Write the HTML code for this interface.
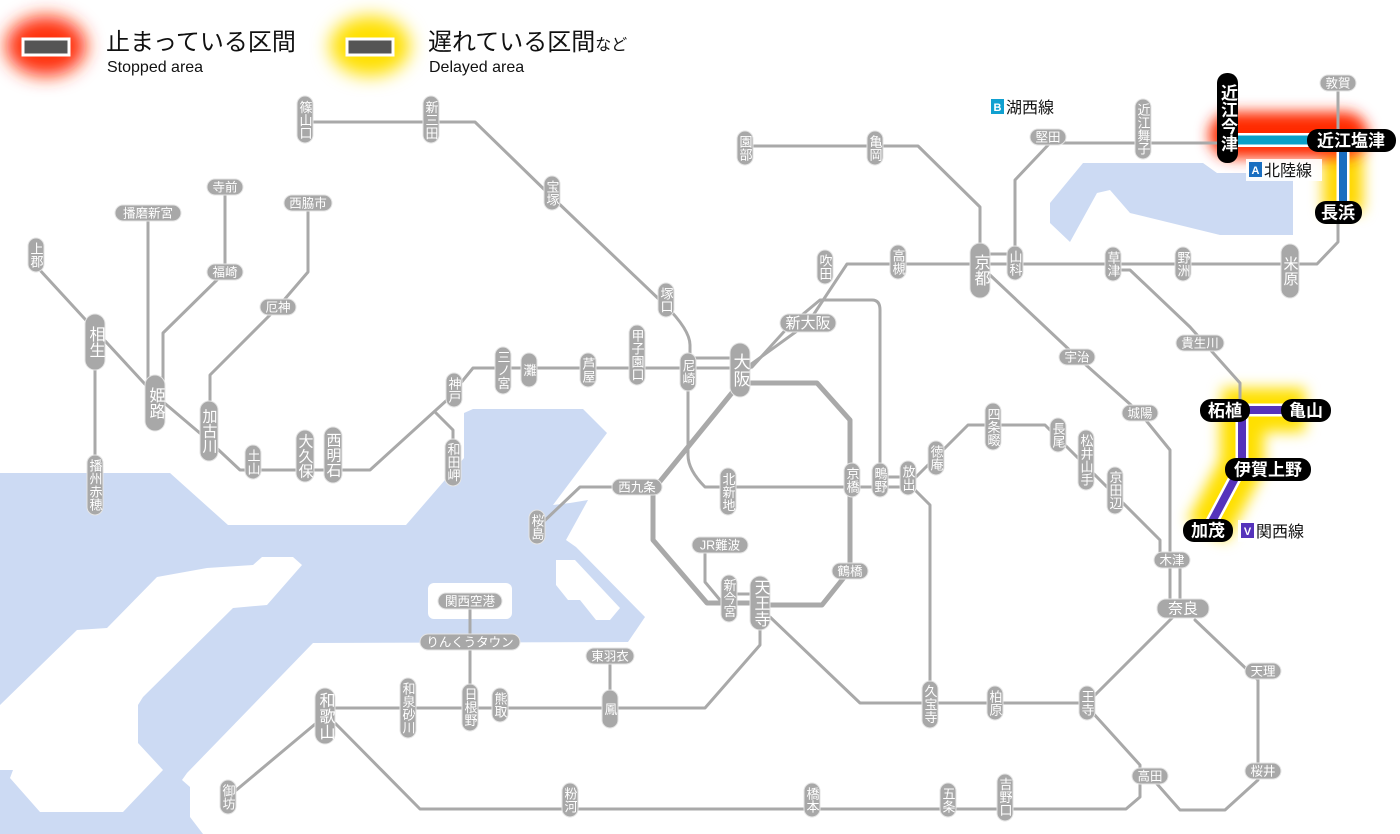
<!DOCTYPE html>
<html><head><meta charset="utf-8"><style>
html,body{margin:0;padding:0;background:#fff;}
svg{display:block;font-family:"Liberation Sans","Noto Sans CJK JP",sans-serif;}
.l{fill:none;stroke:#a9a9a9;stroke-width:3;stroke-linejoin:round;stroke-linecap:round}
.lt{fill:none;stroke:#a9a9a9;stroke-width:5;stroke-linejoin:round}
.p{fill:#a8a8a8;stroke:#e4e4e4;stroke-width:1}
.v{fill:#fff;font-size:13px;writing-mode:tb;text-anchor:middle}
.vb{fill:#fff;font-size:16px;writing-mode:tb;text-anchor:middle}
.h{fill:#fff;font-size:12.5px;text-anchor:middle}
.k{fill:#000}
.kt{fill:#fff;font-size:17px;font-weight:bold;text-anchor:middle}
</style></head><body>
<svg width="1400" height="834" viewBox="0 0 1400 834" xmlns="http://www.w3.org/2000/svg">
<defs>
<filter id="b1" filterUnits="userSpaceOnUse" x="0" y="0" width="1400" height="834"><feGaussianBlur stdDeviation="9"/></filter>
<filter id="b2" filterUnits="userSpaceOnUse" x="0" y="0" width="1400" height="834"><feGaussianBlur stdDeviation="7"/></filter>
</defs>
<!-- sea -->
<polygon fill="#ccdaf3" points="0,473 170,473 228,525 406,525 464,458 464,413 473,409 583,409 607,433 553,505 570,503 588,500 566,540 576,547 645,617 628,642 313,643 187,773 182,780 190,787 190,817 203,834 0,834"/>
<polygon fill="#fff" points="262,557 293,557 302,565 267,605 233,608 143,697 138,705 138,743 163,770 123,812 40,812 10,778 13,770 0,770 0,705 77,630 107,628 157,577 207,568 253,565"/>
<polygon fill="#fff" points="556,560 575,560 620,608 610,620 596,620 580,600 568,600 556,585"/>
<rect x="428" y="583" width="84" height="36" rx="6" fill="#fff"/>
<polygon fill="#ccdaf3" points="1050,203 1083,163 1203,163 1217,173 1293,173 1293,235 1220,235 1130,213 1110,190 1097,193 1070,242 1050,223"/>

<!-- glows -->
<ellipse cx="46" cy="46" rx="40" ry="30" fill="#ff3010" filter="url(#b1)"/>
<ellipse cx="370" cy="46" rx="40" ry="30" fill="#ffe000" filter="url(#b1)"/>
<path d="M1343,150 V212" stroke="#ffd800" stroke-width="40" fill="none" filter="url(#b2)"/>
<path d="M1232,135 H1345" stroke="#ff2a00" stroke-width="46" fill="none" stroke-linecap="round" filter="url(#b2)"/>
<path d="M1222,410 H1305 M1242,410 V465 L1207,531" stroke="#ffe000" stroke-width="44" fill="none" stroke-linejoin="round" filter="url(#b2)"/>

<!-- legend -->
<rect x="23" y="39" width="46" height="16" fill="#555" stroke="#fff" stroke-width="3"/>
<rect x="347" y="39" width="46" height="16" fill="#555" stroke="#fff" stroke-width="3"/>
<text x="106" y="50" font-size="24" fill="#111">止まっている区間</text>
<text x="107" y="72" font-size="16" fill="#111">Stopped area</text>
<text x="428" y="50" font-size="24" fill="#111">遅れている区間<tspan font-size="16">など</tspan></text>
<text x="429" y="72" font-size="16" fill="#111">Delayed area</text>

<!-- gray lines -->
<path class="l" d="M305,122 H475 L552,197 L665,305 Q690,330 690,345 V372"/>
<path class="l" d="M447,400 L473,368 H750 M690,358 H740"/>
<path class="l" d="M447,400 L370,470 H240 L208,440 L155,395 L95,330 L38,268"/>
<path class="l" d="M435,412 L453,430 V462"/>
<path class="l" d="M95,340 V480"/>
<path class="l" d="M148,213 V395"/>
<path class="l" d="M225,187 V272 L163,333 V395"/>
<path class="l" d="M308,203 V272 L278,307 L210,375 V430"/>
<path class="l" d="M745,146 H918 L980,207 V265"/>
<path class="l" d="M750,365 L808,323 L847,264 H1317 L1338,242 V212"/>
<path class="l" d="M1338,83 V140"/>
<path class="l" d="M980,254 H1015"/>
<path class="l" d="M1015,262 V180 L1050,143 H1225"/>
<path class="l" d="M752,367 L790,325 L820,300 H872 Q880,300 880,310 V480"/>
<path class="lt" d="M740,383 H817 L850,420 V570 L822,605 H760 M740,383 L653,490 V540 L707,603 H760"/>
<path class="l" d="M688,380 V455 Q688,470 705,487 H908 M880,477 H908"/>
<path class="l" d="M620,487 H580 L540,525"/>
<path class="l" d="M908,485 L968,425 H1045 L1065,445 L1160,540 V560"/>
<path class="l" d="M915,490 L930,505 V703"/>
<path class="l" d="M990,275 L1077,357 L1140,413 L1170,450 V608 M1180,560 V608"/>
<path class="l" d="M1120,270 H1130 L1190,327 L1240,383 V410"/>
<path class="l" d="M1178,612 L1087,703 H860 L770,617"/>
<path class="l" d="M1195,620 L1258,680 V780 L1225,810 H1180 L1150,776"/>
<path class="l" d="M1092,712 L1140,765 V797 L1126,809 H420 L330,718"/>
<path class="l" d="M320,720 L228,797"/>
<path class="l" d="M330,708 H705 L760,645 V600"/>
<path class="l" d="M470,601 V705 M610,656 V710"/>
<path class="l" d="M705,545 V582 L720,600 M730,594 H760"/>

<!-- colored lines -->
<path d="M1225,140 H1350" stroke="#fff" stroke-width="14" fill="none"/>
<path d="M1225,140 H1350" stroke="#0aa0c8" stroke-width="9" fill="none"/>
<path d="M1343,140 V212" stroke="#fff" stroke-width="13" fill="none"/>
<path d="M1343,140 V212" stroke="#1a6ec0" stroke-width="8" fill="none"/>
<path d="M1222,410 H1305 M1242,410 V465 L1207,531" stroke="#fff" stroke-width="13" fill="none"/>
<path d="M1222,410 H1305 M1242,410 V465 L1207,531" stroke="#5533bb" stroke-width="8" fill="none" stroke-linejoin="round"/>

<!-- vertical labels -->
<g>
<rect class="p" x="297" y="96" width="16" height="47" rx="8"/><text class="v" x="305" y="120">篠山口</text>
<rect class="p" x="423" y="96" width="16" height="47" rx="8"/><text class="v" x="431" y="120">新三田</text>
<rect class="p" x="544" y="176" width="16" height="34" rx="8"/><text class="v" x="552" y="193">宝塚</text>
<rect class="p" x="658" y="283" width="16" height="34" rx="8"/><text class="v" x="666" y="300">塚口</text>
<rect class="p" x="28" y="238" width="16" height="34" rx="8"/><text class="v" x="36" y="255">上郡</text>
<rect class="p" x="85" y="314" width="20" height="56" rx="10"/><text class="vb" x="95" y="342">相生</text>
<rect class="p" x="87" y="455" width="16" height="60" rx="8"/><text class="v" x="95" y="485">播州赤穂</text>
<rect class="p" x="145" y="375" width="20" height="56" rx="10"/><text class="vb" x="155" y="403">姫路</text>
<rect class="p" x="200" y="401" width="18" height="60" rx="9"/><text class="v" x="209" y="431" style="font-size:15px">加古川</text>
<rect class="p" x="245" y="445" width="16" height="34" rx="8"/><text class="v" x="253" y="462">土山</text>
<rect class="p" x="296" y="430" width="18" height="52" rx="9"/><text class="v" x="305" y="456" style="font-size:15px">大久保</text>
<rect class="p" x="324" y="427" width="18" height="56" rx="9"/><text class="v" x="333" y="455" style="font-size:15px">西明石</text>
<rect class="p" x="446" y="373" width="16" height="34" rx="8"/><text class="v" x="454" y="390">神戸</text>
<rect class="p" x="445" y="439" width="16" height="47" rx="8"/><text class="v" x="453" y="462">和田岬</text>
<rect class="p" x="495" y="347" width="16" height="47" rx="8"/><text class="v" x="503" y="370">三ノ宮</text>
<rect class="p" x="521" y="353" width="16" height="34" rx="8"/><text class="v" x="529" y="370">灘</text>
<rect class="p" x="580" y="353" width="16" height="34" rx="8"/><text class="v" x="588" y="370">芦屋</text>
<rect class="p" x="629" y="325" width="16" height="60" rx="8"/><text class="v" x="637" y="355">甲子園口</text>
<rect class="p" x="680" y="353" width="16" height="38" rx="8"/><text class="v" x="688" y="372">尼崎</text>
<rect class="p" x="730" y="343" width="20" height="54" rx="10"/><text class="vb" x="740" y="370" style="font-size:17px">大阪</text>
<rect class="p" x="720" y="468" width="16" height="47" rx="8"/><text class="v" x="728" y="492">北新地</text>
<rect class="p" x="844" y="463" width="16" height="34" rx="8"/><text class="v" x="852" y="480">京橋</text>
<rect class="p" x="872" y="463" width="16" height="34" rx="8"/><text class="v" x="880" y="480">鴫野</text>
<rect class="p" x="900" y="461" width="16" height="34" rx="8"/><text class="v" x="908" y="478">放出</text>
<rect class="p" x="529" y="510" width="16" height="34" rx="8"/><text class="v" x="537" y="527">桜島</text>
<rect class="p" x="721" y="575" width="16" height="47" rx="8"/><text class="v" x="729" y="598">新今宮</text>
<rect class="p" x="750" y="576" width="20" height="54" rx="10"/><text class="vb" x="760" y="603">天王寺</text>
<rect class="p" x="737" y="131" width="16" height="34" rx="8"/><text class="v" x="745" y="148">園部</text>
<rect class="p" x="867" y="131" width="16" height="34" rx="8"/><text class="v" x="875" y="148">亀岡</text>
<rect class="p" x="817" y="250" width="16" height="34" rx="8"/><text class="v" x="825" y="267">吹田</text>
<rect class="p" x="890" y="245" width="16" height="34" rx="8"/><text class="v" x="898" y="262">高槻</text>
<rect class="p" x="970" y="243" width="20" height="55" rx="10"/><text class="vb" x="980" y="270">京都</text>
<rect class="p" x="1007" y="246" width="16" height="34" rx="8"/><text class="v" x="1015" y="263">山科</text>
<rect class="p" x="1105" y="247" width="16" height="34" rx="8"/><text class="v" x="1113" y="264">草津</text>
<rect class="p" x="1175" y="247" width="16" height="34" rx="8"/><text class="v" x="1183" y="264">野洲</text>
<rect class="p" x="1281" y="244" width="18" height="54" rx="9"/><text class="v" x="1290" y="271" style="font-size:15px">米原</text>
<rect class="p" x="1135" y="99" width="16" height="60" rx="8"/><text class="v" x="1143" y="129">近江舞子</text>
<rect class="p" x="928" y="441" width="16" height="34" rx="8"/><text class="v" x="936" y="458">徳庵</text>
<rect class="p" x="985" y="403" width="16" height="47" rx="8"/><text class="v" x="993" y="427">四条畷</text>
<rect class="p" x="1050" y="418" width="16" height="34" rx="8"/><text class="v" x="1058" y="435">長尾</text>
<rect class="p" x="1078" y="430" width="16" height="60" rx="8"/><text class="v" x="1086" y="460">松井山手</text>
<rect class="p" x="1107" y="467" width="16" height="47" rx="8"/><text class="v" x="1115" y="490">京田辺</text>
<rect class="p" x="922" y="681" width="16" height="47" rx="8"/><text class="v" x="930" y="704">久宝寺</text>
<rect class="p" x="987" y="686" width="16" height="34" rx="8"/><text class="v" x="995" y="703">柏原</text>
<rect class="p" x="1079" y="686" width="16" height="34" rx="8"/><text class="v" x="1087" y="703">王寺</text>
<rect class="p" x="315" y="688" width="20" height="56" rx="10"/><text class="vb" x="325" y="716">和歌山</text>
<rect class="p" x="400" y="678" width="16" height="60" rx="8"/><text class="v" x="408" y="708">和泉砂川</text>
<rect class="p" x="462" y="684" width="16" height="47" rx="8"/><text class="v" x="470" y="707">日根野</text>
<rect class="p" x="492" y="688" width="16" height="34" rx="8"/><text class="v" x="500" y="705">熊取</text>
<rect class="p" x="602" y="690" width="16" height="38" rx="8"/><text class="v" x="610" y="709">鳳</text>
<rect class="p" x="220" y="780" width="16" height="34" rx="8"/><text class="v" x="228" y="797">御坊</text>
<rect class="p" x="562" y="783" width="16" height="34" rx="8"/><text class="v" x="570" y="800">粉河</text>
<rect class="p" x="804" y="783" width="16" height="34" rx="8"/><text class="v" x="812" y="800">橋本</text>
<rect class="p" x="940" y="783" width="16" height="34" rx="8"/><text class="v" x="948" y="800">五条</text>
<rect class="p" x="997" y="774" width="16" height="47" rx="8"/><text class="v" x="1005" y="797">吉野口</text>
</g>

<!-- horizontal labels -->
<g>
<rect class="p" x="115" y="205" width="66" height="16" rx="8"/><text class="h" x="148" y="217.5">播磨新宮</text>
<rect class="p" x="207" y="179" width="36" height="16" rx="8"/><text class="h" x="225" y="191.5">寺前</text>
<rect class="p" x="207" y="264" width="36" height="16" rx="8"/><text class="h" x="225" y="276.5">福崎</text>
<rect class="p" x="284" y="195" width="48" height="16" rx="8"/><text class="h" x="308" y="207.5">西脇市</text>
<rect class="p" x="260" y="299" width="36" height="16" rx="8"/><text class="h" x="278" y="311.5">厄神</text>
<rect class="p" x="780" y="314" width="56" height="18" rx="9"/><text class="h" x="808" y="328" style="font-size:15px">新大阪</text>
<rect class="p" x="612" y="479" width="50" height="16" rx="8"/><text class="h" x="637" y="491.5">西九条</text>
<rect class="p" x="692" y="537" width="56" height="16" rx="8"/><text class="h" x="720" y="549.5">JR難波</text>
<rect class="p" x="832" y="563" width="36" height="16" rx="8"/><text class="h" x="850" y="575.5">鶴橋</text>
<rect class="p" x="438" y="593" width="64" height="16" rx="8"/><text class="h" x="470" y="605.5">関西空港</text>
<rect class="p" x="420" y="634" width="100" height="16" rx="8"/><text class="h" x="470" y="646.5">りんくうタウン</text>
<rect class="p" x="586" y="648" width="48" height="16" rx="8"/><text class="h" x="610" y="660.5">東羽衣</text>
<rect class="p" x="1059" y="349" width="36" height="16" rx="8"/><text class="h" x="1077" y="361.5">宇治</text>
<rect class="p" x="1122" y="405" width="36" height="16" rx="8"/><text class="h" x="1140" y="417.5">城陽</text>
<rect class="p" x="1176" y="335" width="48" height="16" rx="8"/><text class="h" x="1200" y="347.5">貴生川</text>
<rect class="p" x="1154" y="552" width="36" height="16" rx="8"/><text class="h" x="1172" y="564.5">木津</text>
<rect class="p" x="1157" y="599" width="52" height="19" rx="9"/><text class="h" x="1183" y="613.5" style="font-size:15px">奈良</text>
<rect class="p" x="1245" y="663" width="36" height="16" rx="8"/><text class="h" x="1263" y="675.5">天理</text>
<rect class="p" x="1245" y="763" width="36" height="16" rx="8"/><text class="h" x="1263" y="775.5">桜井</text>
<rect class="p" x="1132" y="768" width="36" height="16" rx="8"/><text class="h" x="1150" y="780.5">高田</text>
<rect class="p" x="1030" y="129" width="36" height="16" rx="8"/><text class="h" x="1048" y="141.5">堅田</text>
<rect class="p" x="1320" y="75" width="36" height="16" rx="8"/><text class="h" x="1338" y="87.5">敦賀</text>
</g>

<!-- black labels -->
<rect class="k" x="1217" y="73" width="21" height="90" rx="10"/><text class="kt" x="1227.5" y="118" style="writing-mode:tb">近江今津</text>
<rect class="k" x="1307" y="129" width="89" height="23" rx="11"/><text class="kt" x="1351" y="146.5">近江塩津</text>
<rect class="k" x="1315" y="201" width="47" height="23" rx="11"/><text class="kt" x="1338" y="218.5">長浜</text>
<rect class="k" x="1200" y="399" width="50" height="23" rx="11"/><text class="kt" x="1225" y="416.5">柘植</text>
<rect class="k" x="1281" y="399" width="50" height="23" rx="11"/><text class="kt" x="1306" y="416.5">亀山</text>
<rect class="k" x="1225" y="458" width="86" height="23" rx="11"/><text class="kt" x="1268" y="475.5">伊賀上野</text>
<rect class="k" x="1183" y="519" width="50" height="23" rx="11"/><text class="kt" x="1208" y="536.5">加茂</text>

<!-- line badges -->
<rect x="988" y="96" width="76" height="22" fill="#fff" opacity="0.9"/>
<rect x="991" y="99" width="13" height="15" fill="#10a0d0"/><text x="997.5" y="111" font-size="11" fill="#fff" text-anchor="middle" font-weight="bold">B</text>
<text x="1006" y="113" font-size="16" fill="#111">湖西線</text>
<rect x="1246" y="159" width="76" height="22" fill="#fff" opacity="0.9"/>
<rect x="1249" y="162" width="13" height="15" fill="#1a6ec0"/><text x="1255.5" y="174" font-size="11" fill="#fff" text-anchor="middle" font-weight="bold">A</text>
<text x="1264" y="176" font-size="16" fill="#111">北陸線</text>
<rect x="1238" y="520" width="76" height="22" fill="#fff" opacity="0.9"/>
<rect x="1241" y="523" width="13" height="15" fill="#5533bb"/><text x="1247.5" y="535" font-size="11" fill="#fff" text-anchor="middle" font-weight="bold">V</text>
<text x="1256" y="537" font-size="16" fill="#111">関西線</text>
</svg>
</body></html>
